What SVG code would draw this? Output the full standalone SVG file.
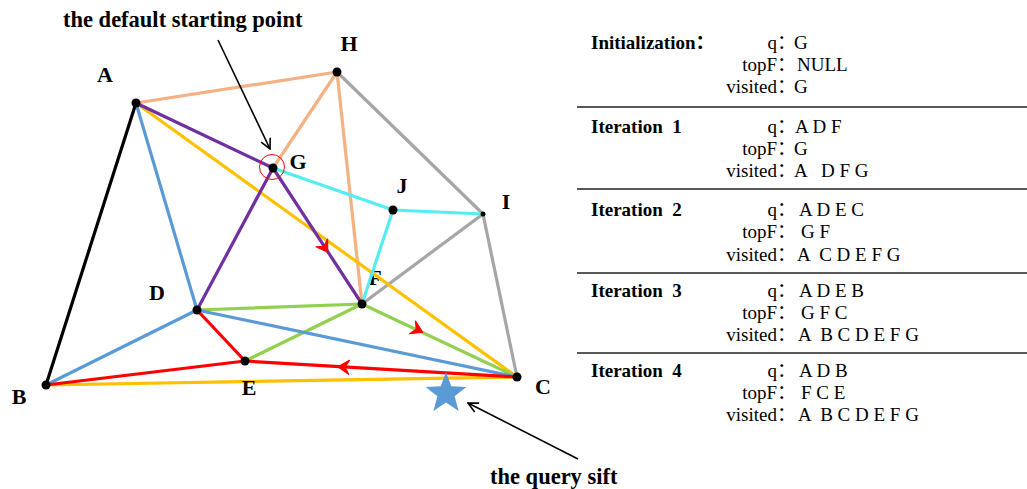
<svg xmlns="http://www.w3.org/2000/svg" width="1027" height="489" viewBox="0 0 1027 489" xml:space="preserve">
<defs>
<style>
.e{fill:none;stroke-width:3.2;stroke-linecap:round}
.pe{stroke:#F4B183}.gy{stroke:#A6A6A6}.bk{stroke:#000}.bl{stroke:#5B9BD5}.yo{stroke:#FFC000}
.pu{stroke:#7030A0}.cy{stroke:#55ECF2}.gr{stroke:#92D050}.rd{stroke:#FF0000}
.dot{fill:#000}
.lbl{font-family:"Liberation Serif","Times New Roman",serif;font-weight:bold;font-size:22px;fill:#000}
.ann{font-family:"Liberation Serif","Times New Roman",serif;font-weight:bold;font-size:22.5px;fill:#000}
.hd{font-family:"Liberation Serif","Noto Sans CJK SC",serif;font-weight:bold;font-size:19px;fill:#000;white-space:pre}
.k{font-family:"Liberation Serif","Noto Sans CJK SC",serif;font-size:19px;fill:#000;text-anchor:end}
.v{font-family:"Liberation Serif","Noto Sans CJK SC",serif;font-size:19px;fill:#000;white-space:pre}
.rule{stroke:#595959;stroke-width:2}
.arr{fill:none;stroke:#000;stroke-width:1.6}
</style>
<marker id="open" viewBox="0 0 12 12" refX="11" refY="6" markerWidth="12" markerHeight="12" markerUnits="userSpaceOnUse" orient="auto">
<path d="M1,1 L11,6 L1,11" fill="none" stroke="#000" stroke-width="1.6"/>
</marker>
<path id="chev" d="M5,0 L-6,-7 L-2,0 L-6,7 Z" fill="#FF0000" stroke="#FF0000" stroke-width="1.2" stroke-linejoin="round"/>
</defs>
<rect width="1027" height="489" fill="#fff"/>

<text class="lbl" x="375" y="285" text-anchor="middle" font-size="20">F</text>

<g id="connectors">
<line class="e pe" x1="136" y1="103" x2="337" y2="72"/>
<line class="e pe" x1="337" y1="72" x2="273" y2="168"/>
<line class="e pe" x1="337" y1="72" x2="362" y2="304"/>
<line class="e gy" x1="337" y1="72" x2="483" y2="214"/>
<line class="e gy" x1="483" y1="214" x2="517" y2="377"/>
<line class="e gy" x1="483" y1="214" x2="362" y2="304"/>
<line class="e bk" x1="136" y1="103" x2="46" y2="385"/>
<line class="e bl" x1="136" y1="103" x2="197" y2="310"/>
<line class="e yo" x1="136" y1="103" x2="517" y2="377"/>
<line class="e pu" x1="136" y1="103" x2="273" y2="168"/>
<line class="e pu" x1="273" y1="168" x2="197" y2="310"/>
<line class="e pu" x1="273" y1="168" x2="362" y2="304"/>
<line class="e cy" x1="273" y1="168" x2="393" y2="210"/>
<line class="e cy" x1="393" y1="210" x2="483" y2="214"/>
<line class="e cy" x1="393" y1="210" x2="362" y2="304"/>
<line class="e gr" x1="197" y1="310" x2="362" y2="304"/>
<line class="e gr" x1="362" y1="304" x2="245" y2="361"/>
<line class="e gr" x1="362" y1="304" x2="517" y2="377"/>
<line class="e bl" x1="197" y1="310" x2="46" y2="385"/>
<line class="e bl" x1="197" y1="310" x2="517" y2="377"/>
<line class="e yo" x1="46" y1="385" x2="517" y2="377"/>
<line class="e rd" x1="197" y1="310" x2="245" y2="361"/>
<line class="e rd" x1="245" y1="361" x2="46" y2="385"/>
<line class="e rd" x1="245" y1="361" x2="517" y2="377"/>
<use href="#chev" transform="translate(325,248) rotate(56.8)"/>
<use href="#chev" transform="translate(418,330) rotate(25.2)"/>
<use href="#chev" transform="translate(343,367) rotate(183.4)"/>
</g>

<g id="node-A"><circle class="dot" cx="136" cy="103" r="4.5"/><text class="lbl" x="105" y="82" text-anchor="middle">A</text></g>
<g id="node-H"><circle class="dot" cx="337" cy="72" r="4.5"/><text class="lbl" x="349" y="51" text-anchor="middle">H</text></g>
<g id="node-G"><circle cx="272" cy="167" r="12.5" fill="none" stroke="#FF0000" stroke-width="1"/><circle class="dot" cx="273" cy="168" r="4.5"/><text class="lbl" x="298" y="169" text-anchor="middle">G</text></g>
<g id="node-J"><circle class="dot" cx="393" cy="210" r="4.5"/><text class="lbl" x="402" y="193" text-anchor="middle">J</text></g>
<g id="node-I"><circle class="dot" cx="483" cy="214" r="2.5"/><text class="lbl" x="506" y="209" text-anchor="middle">I</text></g>
<g id="node-F"><circle class="dot" cx="362" cy="304" r="4.5"/></g>
<g id="node-D"><circle class="dot" cx="197" cy="310" r="4.5"/><text class="lbl" x="157" y="300" text-anchor="middle">D</text></g>
<g id="node-E"><circle class="dot" cx="245" cy="361" r="4.5"/><text class="lbl" x="249" y="395" text-anchor="middle">E</text></g>
<g id="node-B"><circle class="dot" cx="46" cy="385" r="4.5"/><text class="lbl" x="19" y="404" text-anchor="middle">B</text></g>
<g id="node-C"><circle class="dot" cx="517" cy="377" r="4.5"/><text class="lbl" x="543" y="394" text-anchor="middle">C</text></g>

<g id="query">
<path d="M446,372 L451.3,386.2 L466.4,386.9 L454.6,396.3 L458.6,410.9 L446,402.5 L433.4,410.9 L437.4,396.3 L425.6,386.9 L440.7,386.2 Z" fill="#5B9BD5"/>
</g>

<g id="annotations">
<text class="ann" x="63" y="27">the default starting point</text>
<line class="arr" x1="218" y1="40" x2="270" y2="149" marker-end="url(#open)"/>
<text class="ann" x="490" y="484">the query sift</text>
<line class="arr" x1="578" y1="459" x2="468" y2="403" marker-end="url(#open)"/>
</g>

<g id="table">
<line class="rule" x1="577" y1="107" x2="1027" y2="107"/>
<line class="rule" x1="577" y1="189" x2="1027" y2="189"/>
<line class="rule" x1="577" y1="273" x2="1027" y2="273"/>
<line class="rule" x1="577" y1="353" x2="1027" y2="353"/>

<text class="hd" x="591" y="49">Initialization：</text>
<text class="k" x="796" y="49">q：</text><text class="v" x="794" y="49">G</text>
<text class="k" x="796" y="71">topF：</text><text class="v" x="797" y="71">NULL</text>
<text class="k" x="796" y="93">visited：</text><text class="v" x="794" y="93">G</text>

<text class="hd" x="591" y="133">Iteration  1</text>
<text class="k" x="796" y="133">q：</text><text class="v" x="795" y="133">A D F</text>
<text class="k" x="796" y="155">topF：</text><text class="v" x="794" y="155">G</text>
<text class="k" x="796" y="177">visited：</text><text class="v" x="794" y="177">A   D F G</text>

<text class="hd" x="591" y="216">Iteration  2</text>
<text class="k" x="796" y="216">q：</text><text class="v" x="799" y="216">A D E C</text>
<text class="k" x="796" y="238">topF：</text><text class="v" x="801" y="238">G F</text>
<text class="k" x="796" y="261">visited：</text><text class="v" x="797" y="261">A  C D E F G</text>

<text class="hd" x="591" y="297">Iteration  3</text>
<text class="k" x="796" y="297">q：</text><text class="v" x="799" y="297">A D E B</text>
<text class="k" x="796" y="319">topF：</text><text class="v" x="801" y="319">G F C</text>
<text class="k" x="796" y="341">visited：</text><text class="v" x="798" y="341">A  B C D E F G</text>

<text class="hd" x="591" y="377">Iteration  4</text>
<text class="k" x="796" y="377">q：</text><text class="v" x="799" y="377">A D B</text>
<text class="k" x="796" y="399">topF：</text><text class="v" x="801" y="399">F C E</text>
<text class="k" x="796" y="421">visited：</text><text class="v" x="798" y="421">A  B C D E F G</text>
</g>
</svg>
